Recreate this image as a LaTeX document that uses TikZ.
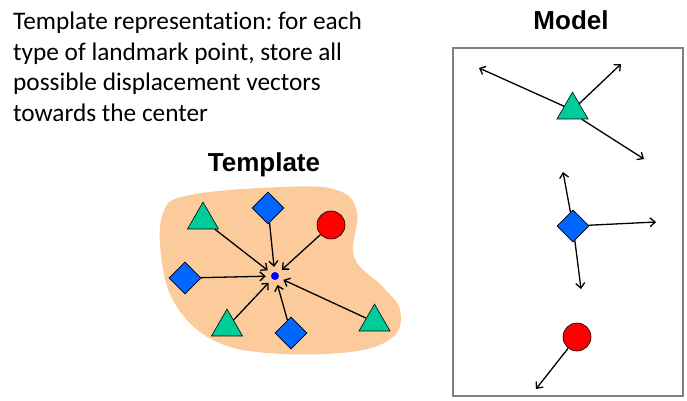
\documentclass[tikz,border=0pt]{standalone}
\usepackage{fontspec}
\setmainfont[Ligatures=NoCommon]{Carlito}
\newfontfamily\arialfont{Liberation Sans}
\usetikzlibrary{shapes.geometric,arrows.meta}
\frenchspacing
\definecolor{blobc}{RGB}{251,203,155}
\definecolor{trig}{RGB}{0,204,153}
\definecolor{diab}{RGB}{0,102,255}
\definecolor{redc}{RGB}{255,0,0}
\definecolor{boxg}{RGB}{128,128,128}
\tikzset{
  tri/.style={regular polygon, regular polygon sides=3, minimum size=35.8pt, inner sep=0pt, fill=trig, draw=black, line width=0.6pt},
  dia/.style={diamond, minimum width=32pt, minimum height=32pt, inner sep=0pt, fill=diab, draw=black, line width=0.6pt},
  redball/.style={circle, minimum size=28pt, inner sep=0pt, fill=redc, draw=black, line width=0.6pt},
  arr/.style={-{Straight Barb[length=5pt,width=9pt]}, line width=1.3pt, black},
  title/.style={font=\arialfont\bfseries\fontsize{26}{30}\selectfont, anchor=base, inner sep=0pt}
}
\begin{document}
\begin{tikzpicture}[x=1pt,y=-1pt]
\useasboundingbox (0,0) rectangle (687,400);
% text
\node[anchor=north west, align=left, inner sep=0pt, font=\fontsize{25.3}{30.5}\selectfont] (txt) at (13,12)
 {Template representation: for each\\type of landmark point, store all\\possible displacement vectors\\towards the center};
\node[title] (ttl) at (264,171) {Template};
\node[title] (mtl) at (571,29) {Model};
% blob
\fill[blobc] plot[smooth cycle, tension=0.65] coordinates {(163,213) (190,195) (283,187) (337,190) (357,212) (354,257) (383,287) (400,310) (393,337) (350,352) (267,353) (213,340) (177,307) (162,263)};
% template shapes
\node[circle, fill=blue, minimum size=8pt, inner sep=0pt] (c) at (275,276) {};
\node[tri] (tA) at (203,220) {};
\node[tri] (tB) at (227,327) {};
\node[tri] (tC) at (374.5,322) {};
\node[dia] (dA) at (268,208) {};
\node[dia] (dB) at (185,278) {};
\node[dia] (dC) at (291,333) {};
\node[redball] (rA) at (331,225) {};
\foreach \s in {tA,tB,tC,dA,dB,dC,rA}
  \draw[arr, shorten >=5pt] (\s) -- (c);
% model box
\node[draw=boxg, line width=2pt, minimum width=230pt, minimum height=348pt, inner sep=0pt, anchor=north west] (box) at (452,47) {};
\coordinate (e1) at (479,68);
\coordinate (e2) at (621,64);
\coordinate (e3) at (644,159);
\coordinate (e4) at (563,172);
\coordinate (e5) at (656,222);
\coordinate (e6) at (581,289);
\coordinate (e7) at (536,389);
\node[tri] (mT) at (572.5,110) {};
\node[dia] (mD) at (573,226) {};
\node[redball] (mR) at (577,337) {};
\draw[arr] (mT) -- (e1);
\draw[arr] (mT) -- (e2);
\draw[arr] (mT.south east) -- (e3);
\draw[arr] (mD) -- (e4);
\draw[arr] (mD) -- (e5);
\draw[arr] (mD) -- (e6);
\draw[arr] (mR) -- (e7);
\end{tikzpicture}
\end{document}
